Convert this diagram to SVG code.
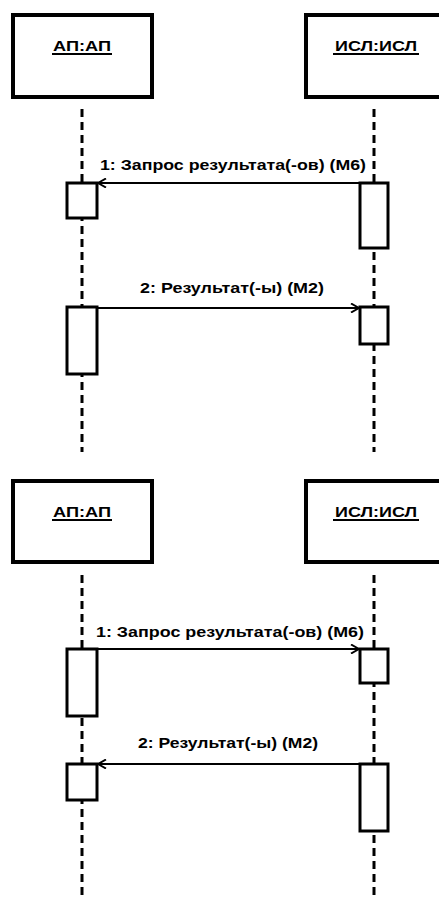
<svg xmlns="http://www.w3.org/2000/svg" width="439" height="900" viewBox="0 0 439 900">
<defs>
<style>
.obj{fill:#fff;stroke:#000;stroke-width:4}
.act{fill:#fff;stroke:#000;stroke-width:3}
.life{stroke:#000;stroke-width:3;stroke-dasharray:8 5;fill:none}
.msg{stroke:#000;stroke-width:2;fill:none}
.lbl{font-family:"Liberation Sans",Arial,sans-serif;font-weight:bold;font-size:14px;fill:#000}
.hdr{font-family:"Liberation Sans",Arial,sans-serif;font-weight:bold;font-size:14px;fill:#000}
.ul{stroke:#000;stroke-width:2}
</style>
<marker id="open" viewBox="0 0 10 10" refX="9" refY="5" markerWidth="10" markerHeight="10" markerUnits="userSpaceOnUse" orient="auto">
<path d="M1,0.5 L9,5 L1,9.5" fill="none" stroke="#000" stroke-width="2"/>
</marker>
</defs>
<rect width="439" height="900" fill="#fff"/>

<g id="lifelines">
<line class="life" x1="82" y1="109" x2="82" y2="452"/>
<line class="life" x1="374" y1="109" x2="374" y2="452"/>
<line class="life" x1="82" y1="575" x2="82" y2="900"/>
<line class="life" x1="374" y1="575" x2="374" y2="900"/>
</g>

<g id="ap1">
<rect class="obj" x="13" y="15" width="139" height="82"/>
<text class="hdr" x="82" y="51" text-anchor="middle" textLength="58" lengthAdjust="spacingAndGlyphs">АП:АП</text>
<line class="ul" x1="52" y1="54" x2="112" y2="54"/>
</g>
<g id="isl1">
<rect class="obj" x="306" y="15" width="140" height="82"/>
<text class="hdr" x="376" y="51" text-anchor="middle" textLength="82" lengthAdjust="spacingAndGlyphs">ИСЛ:ИСЛ</text>
<line class="ul" x1="333" y1="54" x2="419" y2="54"/>
</g>

<g id="act1">
<rect class="act" x="67" y="183" width="30" height="35"/>
<rect class="act" x="360" y="183" width="28" height="65"/>
<rect class="act" x="67" y="307" width="30" height="67"/>
<rect class="act" x="360" y="307" width="28" height="37"/>
</g>

<g id="ap2">
<rect class="obj" x="13" y="481" width="139" height="81"/>
<text class="hdr" x="82" y="517" text-anchor="middle" textLength="58" lengthAdjust="spacingAndGlyphs">АП:АП</text>
<line class="ul" x1="52" y1="520" x2="112" y2="520"/>
</g>
<g id="isl2">
<rect class="obj" x="306" y="481" width="140" height="81"/>
<text class="hdr" x="376" y="517" text-anchor="middle" textLength="82" lengthAdjust="spacingAndGlyphs">ИСЛ:ИСЛ</text>
<line class="ul" x1="333" y1="520" x2="419" y2="520"/>
</g>

<g id="act2">
<rect class="act" x="67" y="649" width="30" height="67"/>
<rect class="act" x="360" y="649" width="28" height="34"/>
<rect class="act" x="67" y="764" width="30" height="36"/>
<rect class="act" x="360" y="764" width="28" height="67"/>
</g>

<g id="connectors">
<line class="msg" x1="360" y1="183" x2="98" y2="183" marker-end="url(#open)"/>
<text class="lbl" x="233" y="170" text-anchor="middle" textLength="266" lengthAdjust="spacingAndGlyphs">1: Запрос результата(-ов) (М6)</text>
<line class="msg" x1="97" y1="308" x2="359" y2="308" stroke-width="1.5" marker-end="url(#open)"/>
<text class="lbl" x="232" y="293" text-anchor="middle" textLength="184" lengthAdjust="spacingAndGlyphs">2: Результат(-ы) (М2)</text>
<line class="msg" x1="97" y1="649" x2="359" y2="649" marker-end="url(#open)"/>
<text class="lbl" x="230" y="637" text-anchor="middle" textLength="268" lengthAdjust="spacingAndGlyphs">1: Запрос результата(-ов) (М6)</text>
<line class="msg" x1="360" y1="764" x2="98" y2="764" stroke-width="1.5" marker-end="url(#open)"/>
<text class="lbl" x="228" y="748" text-anchor="middle" textLength="180" lengthAdjust="spacingAndGlyphs">2: Результат(-ы) (М2)</text>
</g>
</svg>
